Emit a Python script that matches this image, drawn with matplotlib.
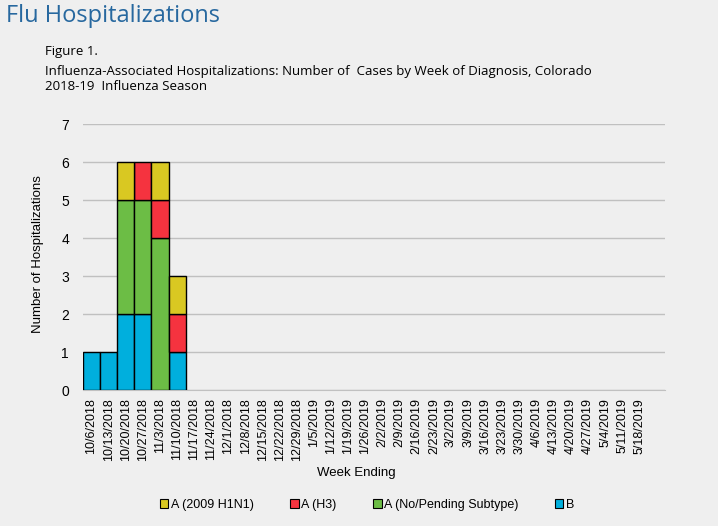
import numpy as np
import matplotlib
matplotlib.use("Agg")
import matplotlib.pyplot as plt
from matplotlib.patches import Patch

# week-ending labels shown on the x axis (the chart has one more empty slot at the end)
weeks = ["10/6/2018", "10/13/2018", "10/20/2018", "10/27/2018", "11/3/2018", "11/10/2018",
         "11/17/2018", "11/24/2018", "12/1/2018", "12/8/2018", "12/15/2018", "12/22/2018",
         "12/29/2018", "1/5/2019", "1/12/2019", "1/19/2019", "1/26/2019", "2/2/2019",
         "2/9/2019", "2/16/2019", "2/23/2019", "3/2/2019", "3/9/2019", "3/16/2019",
         "3/23/2019", "3/30/2019", "4/6/2019", "4/13/2019", "4/20/2019", "4/27/2019",
         "5/4/2019", "5/11/2019", "5/18/2019"]

# counts per week, only the first six weeks have cases
b_cases = [1, 1, 2, 2, 0, 1]
a_pending = [0, 0, 3, 3, 4, 0]
a_h3 = [0, 0, 0, 1, 1, 1]
a_h1n1 = [0, 0, 1, 0, 1, 1]

series_names = ["A (2009 H1N1)", "A (H3)", "A (No/Pending Subtype)", "B"]
series_colors = ["#d9c822", "#f5333f", "#6cbd45", "#00afdd"]

n_slots = len(weeks) + 1
bg = "#efefef"

def pad(vals):
    out = np.zeros(len(weeks))
    out[:len(vals)] = vals
    return out

b = pad(b_cases)
pend = pad(a_pending)
h3 = pad(a_h3)
h1 = pad(a_h1n1)

fig = plt.figure(figsize=(7.18, 5.26), dpi=100, facecolor=bg)
ax = fig.add_axes([83 / 718, 1 - 390 / 526, 582 / 718, 266 / 526])
ax.set_facecolor(bg)

x = np.arange(len(weeks))

def stack(vals, bottom, color):
    # skip empty weeks so no outline is drawn along the baseline
    m = vals > 0
    ax.bar(x[m], vals[m], bottom=bottom[m], color=color, width=1.0,
           edgecolor="black", linewidth=1.0, zorder=3)

# stack: B at the bottom, then pending, H3, H1N1
stack(b, np.zeros(len(weeks)), series_colors[3])
stack(pend, b, series_colors[2])
stack(h3, b + pend, series_colors[1])
stack(h1, b + pend + h3, series_colors[0])

ax.set_xlim(-0.5, n_slots - 0.5)
ax.set_ylim(0, 7)
ax.set_yticks(range(0, 8))
ax.yaxis.grid(True, color="#c0c0c0", linewidth=1.0, zorder=0)
ax.set_axisbelow(True)
for s in ["top", "right", "left"]:
    ax.spines[s].set_visible(False)
ax.spines["bottom"].set_color("#c0c0c0")
ax.spines["bottom"].set_zorder(1)
ax.tick_params(axis="both", length=0, labelsize=10, colors="#000000")
ax.tick_params(axis="y", pad=10)
ax.set_xticks(x)
ax.set_xticklabels(weeks, rotation=90, fontsize=9, family="Liberation Sans")
for t in ax.get_yticklabels():
    t.set_family("Liberation Sans")
ax.tick_params(axis="x", pad=6)

fig.text(38 / 718, 1 - 254 / 526, "Number of Hospitalizations", rotation=90,
         ha="center", va="center", fontsize=9.5, family="Liberation Sans")
fig.text(356 / 718, 1 - 473 / 526, "Week Ending", ha="center", va="center",
         fontsize=9.5, family="Liberation Sans")

fig.text(6 / 718, 1 - 16 / 526, "Flu Hospitalizations", ha="left", va="center",
         fontsize=17, color="#27689f", family="Open Sans")
fig.text(45 / 718, 1 - 52 / 526, "Figure 1.", ha="left", va="center",
         fontsize=9.5, family="Open Sans")
fig.text(45 / 718, 1 - 71 / 526,
         "Influenza-Associated Hospitalizations: Number of  Cases by Week of Diagnosis, Colorado",
         ha="left", va="center", fontsize=9.5, family="Open Sans")
fig.text(45 / 718, 1 - 87 / 526, "2018-19  Influenza Season", ha="left", va="center",
         fontsize=9.5, family="Open Sans")

handles = [Patch(facecolor=c, edgecolor="black", linewidth=0.8) for c in series_colors]
leg = fig.legend(handles, series_names, loc="center", bbox_to_anchor=(367 / 718, 1 - 505 / 526),
                 ncol=4, frameon=False, prop={"family": "Liberation Sans", "size": 9},
                 handlelength=0.7, handleheight=0.7, handletextpad=0.2, columnspacing=2.9)

fig.savefig("out.png", dpi=100, facecolor=bg)
